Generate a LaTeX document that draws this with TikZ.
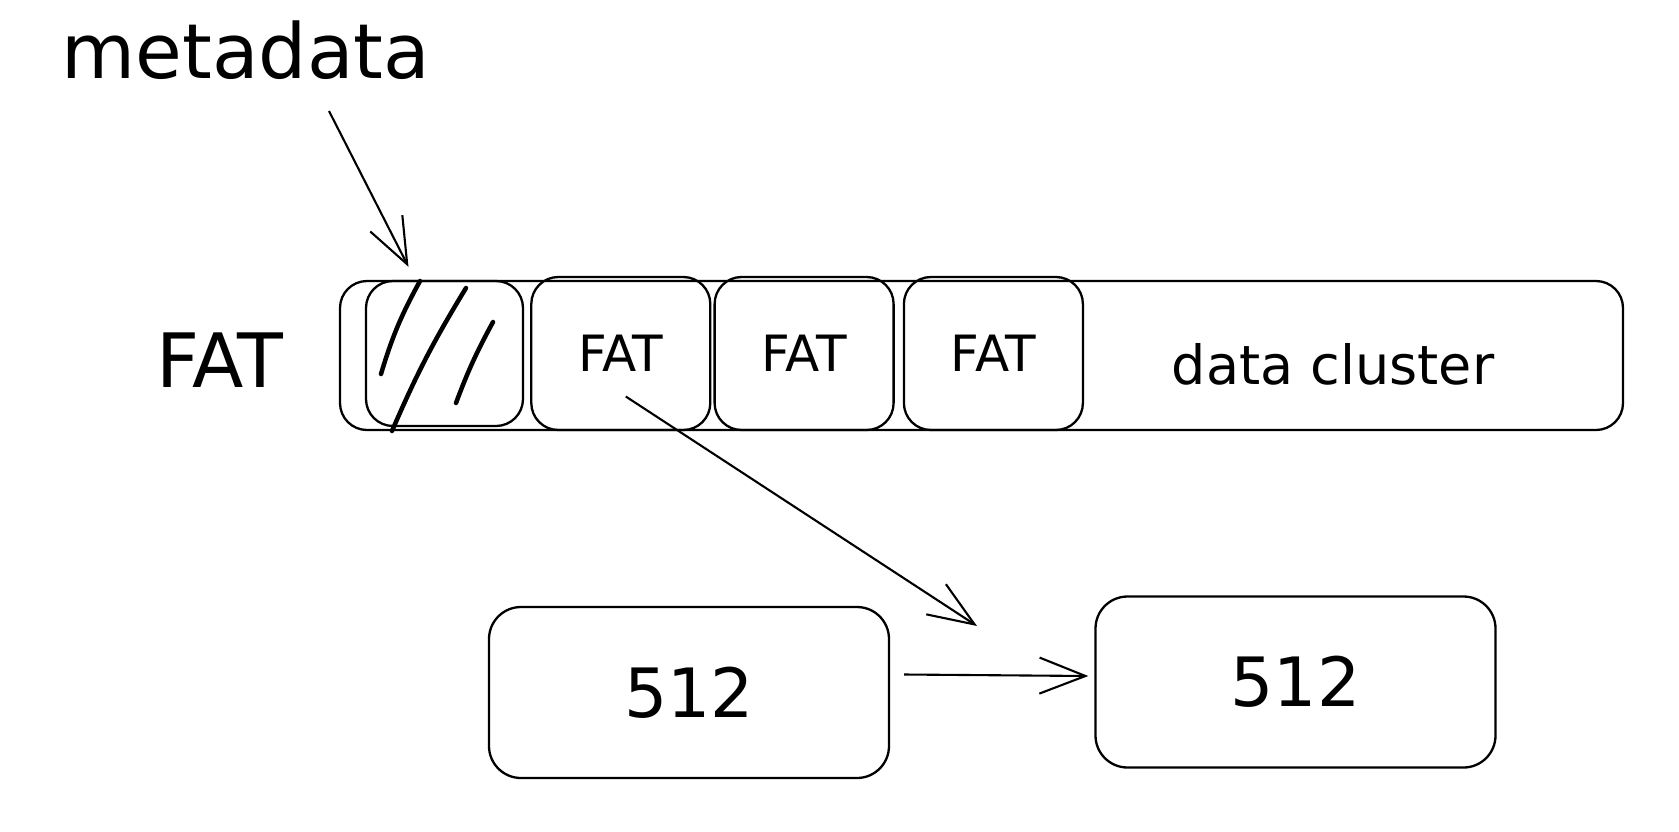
\documentclass[tikz,border=0pt]{standalone}
\usepackage{fontspec}
\setmainfont{DejaVu Sans}
\usepackage{tikz}
\usetikzlibrary{positioning, arrows.meta}
\tikzset{
	every node/.append style={
		inner sep=0pt,
	},
	sketch/.append style={
		draw,
		line width=2.3pt,
		rounded corners=27pt,
	},
	labe/.append style={
		align = center,
	},
}

\begin{document}
\begin{tikzpicture}[
	x=1pt, y=-1pt,
	cell/.style = {sketch, minimum width=179pt, minimum height=153pt, font=\fontsize{50}{52}\selectfont},
	block/.style = {sketch, rounded corners=32pt, minimum width=400pt, minimum height=171pt, font=\fontsize{68}{70}\selectfont},
	arr/.style = {line width=2.1pt, -{Straight Barb[length=46pt,width=36pt]}},
	hatch/.style = {line width=4.5pt, line cap=round}
	]
	\useasboundingbox (0,0) rectangle (1679,831);

	\node[labe, font=\fontsize{76}{78}\selectfont](md) at (246,50){metadata};
	\node[labe, font=\fontsize{75}{77}\selectfont](fatlab) at (220,360){FAT};

	% the volume
	\node[sketch, minimum width=1283pt, minimum height=149pt](vol) at (981.5,355.5){};
	\node[sketch, minimum width=157pt, minimum height=145pt](meta) at (444.5,353.5){};
	\node[cell, right = 6pt of meta](fat1){FAT};
	\node[cell, right = 2pt of fat1](fat2){FAT};
	\node[cell, right = 8pt of fat2](fat3){FAT};
	\node[labe, font=\fontsize{54}{56}\selectfont](dc) at (1333,364){data cluster};

	\draw[hatch] (420,281) to[bend right=6] (381,374);
	\draw[hatch] (466,288) to[bend right=4] (392,431);
	\draw[hatch] (493,322) to[bend right=4] (456,403);

	% sectors
	\node[block](blk1) at (689,692.5){512};
	\node[block](blk2) at (1295.5,682){512};

	\coordinate (mtail) at (329,111);
	\coordinate (ftip) at (977,626);
	\draw[arr] (mtail) -- ([xshift=-36pt,yshift=13pt]meta.north);
	\draw[arr] ([xshift=5pt,yshift=-43pt]fat1.center) -- (ftip);
	\draw[arr] ([xshift=14pt,yshift=18pt]blk1.east) -- ([xshift=-6pt,yshift=6pt]blk2.west);

\end{tikzpicture}
\end{document}
